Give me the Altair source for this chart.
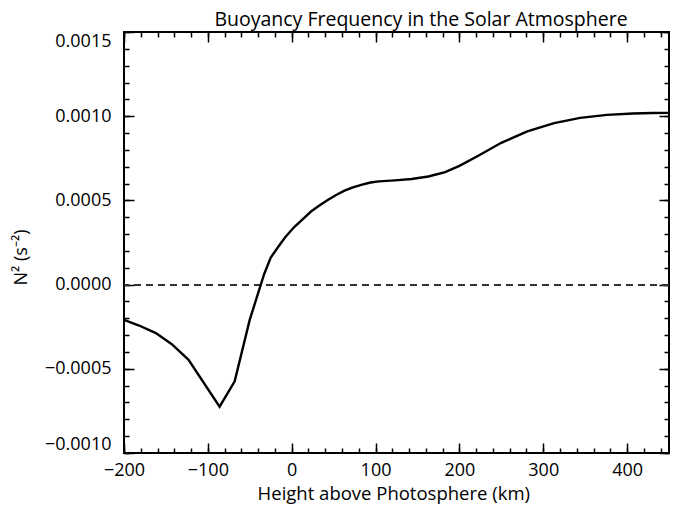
import altair as alt
import pandas as pd

# Height above photosphere (km) and N^2 (s^-2)
heights = [-200, -182, -162, -143, -123, -86, -68, -50, -33, -25, -16, -8, 3, 13,
           23, 33, 43, 53, 63, 73, 84, 94, 104, 123, 143, 163, 183, 200, 222,
           250, 281, 313, 344, 376, 407, 430, 450]
n2 = [-0.000210, -0.000243, -0.000288, -0.000354, -0.000447, -0.000725,
      -0.000574, -0.000208, 0.000060, 0.000160, 0.000225, 0.000280, 0.000342,
      0.000388, 0.000434, 0.000470, 0.000502, 0.000532, 0.000558, 0.000578,
      0.000594, 0.000606, 0.000613, 0.000619, 0.000627, 0.000642, 0.000668,
      0.000705, 0.000764, 0.000842, 0.000910, 0.000959, 0.000990, 0.001008,
      0.001016, 0.001019, 0.001020]

x_major = [-200, -100, 0, 100, 200, 300, 400]
x_minor = [-200 + 20 * i for i in range(33)]
y_major = [-0.0010, -0.0005, 0.0, 0.0005, 0.0010, 0.0015]
y_minor = [round(-0.0010 + 0.0001 * i, 4) for i in range(26)]

TITLE = "Buoyancy Frequency in the Solar Atmosphere"
XTITLE = "Height above Photosphere (km)"
YTITLE = "N\u00b2 (s\u207b\u00b2)"

W, H = 545, 421
PAD_LEFT, PAD_TOP = 116, 24
PAD_BOTTOM = 497 - PAD_TOP - H
FONT = "Open Sans"

df = pd.DataFrame({"h": heights, "n2": n2})

xs = alt.Scale(domain=[-200, 450], nice=False, zero=False)
ys = alt.Scale(domain=[-0.0010, 0.0015], nice=False, zero=False)

main = alt.Chart(df).mark_line(color="black", strokeWidth=2.4).encode(
    x=alt.X("h:Q", scale=xs, axis=alt.Axis(
        orient="bottom", values=x_major, ticks=False, domain=False, grid=False,
        labelFlush=False, labelPadding=8, labelFontSize=18, labelFont=FONT,
        labelColor="black", title=XTITLE, titleFont=FONT, titleFontSize=18.5,
        titleFontWeight="normal", titleColor="black", titleX=393.3 - 124, titleY=46,
        titleBaseline="alphabetic", titleAlign="center")),
    y=alt.Y("n2:Q", scale=ys, axis=alt.Axis(
        orient="left", values=y_major, format=".4f", ticks=False, domain=False,
        grid=False, labelFlush=True, labelPadding=13, labelFontSize=18,
        labelFont=FONT, labelColor="black", title=YTITLE, titleFont=FONT,
        titleFontSize=18, titleFontWeight="normal", titleColor="black",
        titleX=21 - 124, titleY=225, titleAngle=270, titleBaseline="middle",
        titleAlign="center")),
)

zero = alt.Chart(df).mark_rule(color="#333333", strokeDash=[7, 5], strokeWidth=1.2).encode(
    y=alt.Y(datum=0, scale=ys, axis=None)
)

# chart title carried by a label-less top axis
title_layer = alt.Chart(df).mark_point(opacity=0, size=1).encode(
    x=alt.X("h:Q", scale=xs, axis=alt.Axis(
        orient="top", ticks=False, labels=False, domain=False, grid=False,
        title=TITLE, titleFont=FONT, titleFontSize=19.5, titleFontWeight="normal",
        titleColor="black", titleX=420.5 - 124, titleY=-7,
        titleBaseline="alphabetic", titleAlign="center")),
    y=alt.Y("n2:Q", scale=ys, axis=None),
)


def tick_layer(xvals, yvals, size, xorient, yorient, offx, offy):
    common = dict(labels=False, domain=False, grid=False, title=None, ticks=True,
                  tickColor="black", tickWidth=1.5, tickSize=size)
    return alt.Chart(df).mark_point(opacity=0, size=1).encode(
        x=alt.X("h:Q", scale=xs, axis=alt.Axis(orient=xorient, values=xvals, offset=offx, **common)),
        y=alt.Y("n2:Q", scale=ys, axis=alt.Axis(orient=yorient, values=yvals, offset=offy, **common)),
    )


layers = [
    zero,
    main,
    title_layer,
    tick_layer(x_major, y_major, 10, "bottom", "left", -H, -W),
    tick_layer(x_major, y_major, 10, "top", "right", -H, -W),
    tick_layer(x_minor, y_minor, 5, "bottom", "left", -H, -W),
    tick_layer(x_minor, y_minor, 5, "top", "right", -H, -W),
]

chart = alt.layer(*layers).resolve_axis(
    x="independent", y="independent"
).properties(
    width=W, height=H,
    autosize=alt.AutoSizeParams(type="none"),
    padding={"left": PAD_LEFT, "top": PAD_TOP, "right": 1, "bottom": PAD_BOTTOM},
).configure_view(stroke="black", strokeWidth=2)

chart.save("out.html", embed_options={"renderer": "svg", "actions": False})
